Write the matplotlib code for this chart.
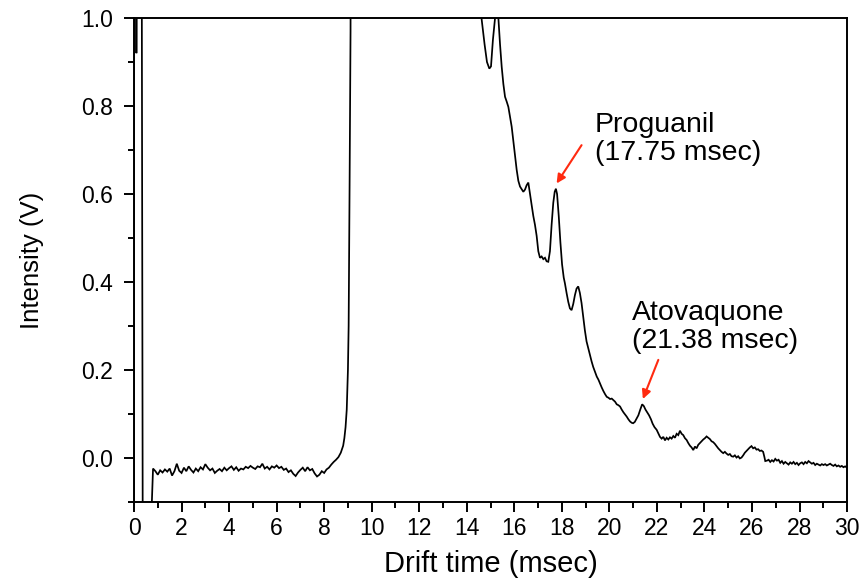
import matplotlib
matplotlib.use("Agg")
import matplotlib.pyplot as plt
from matplotlib.ticker import MultipleLocator, FormatStrFormatter

plt.rcParams["font.family"] = ["Liberation Sans", "DejaVu Sans"]

# Injection pulse and gating artefacts near t = 0 (off-scale values beyond the y-limits)
pulse_t = [0.00, 0.00, 0.09, 0.10, 0.13, 0.31, 0.37, 0.62, 0.80]
pulse_v = [-0.30, 1.60, 1.60, 0.92, 1.60, 1.60, -0.30, -0.30, -0.024]

# Baseline before the reactant ion peak
base_t = [0.9, 1.0, 1.1, 1.2, 1.3, 1.4, 1.5, 1.6, 1.7, 1.8, 1.9, 2.0, 2.1, 2.2, 2.3,
          2.4, 2.5, 2.6, 2.7, 2.8, 2.9, 3.0, 3.1, 3.2, 3.3, 3.4, 3.5, 3.6, 3.7, 3.8,
          3.9, 4.0, 4.1, 4.2, 4.3, 4.4, 4.5, 4.6, 4.7, 4.8, 4.9, 5.0, 5.1, 5.2, 5.3,
          5.4, 5.5, 5.6, 5.7, 5.8, 5.9, 6.0, 6.1, 6.2, 6.3, 6.4, 6.5, 6.6, 6.7, 6.8,
          6.9, 7.0, 7.1, 7.2, 7.3, 7.4, 7.5, 7.6, 7.7, 7.8, 7.9, 8.0, 8.1, 8.2, 8.3,
          8.4, 8.5]
base_v = [-0.030, -0.038, -0.028, -0.033, -0.026, -0.031, -0.024, -0.040, -0.030, -0.013,
          -0.029, -0.034, -0.022, -0.030, -0.019, -0.027, -0.033, -0.024, -0.030, -0.021,
          -0.026, -0.014, -0.022, -0.028, -0.024, -0.034, -0.029, -0.025, -0.030, -0.022,
          -0.028, -0.023, -0.019, -0.027, -0.021, -0.029, -0.024, -0.026, -0.020, -0.023,
          -0.018, -0.022, -0.025, -0.019, -0.021, -0.013, -0.024, -0.020, -0.026, -0.019,
          -0.022, -0.017, -0.023, -0.020, -0.027, -0.024, -0.032, -0.028, -0.036, -0.041,
          -0.033, -0.027, -0.022, -0.030, -0.021, -0.028, -0.025, -0.035, -0.042, -0.038,
          -0.030, -0.034, -0.026, -0.022, -0.015, -0.009, -0.004]

# Reactant ion peak (rising edge, then off-scale)
rip_t = [8.60, 8.70, 8.80, 8.85, 8.90, 8.95, 9.00, 9.03, 9.05, 9.07, 9.09, 9.11, 9.13,
         14.55]
rip_v = [0.002, 0.012, 0.028, 0.045, 0.070, 0.110, 0.200, 0.300, 0.450, 0.620, 0.800,
         0.970, 1.600, 1.300]

# Analyte region: tail of the reactant ion peak with proguanil and atovaquone
ana_t = [14.62, 14.75, 14.85, 14.95, 15.02, 15.10, 15.19, 15.25, 15.30, 15.33, 15.40,
         15.47, 15.54, 15.61, 15.68, 15.75, 15.82, 15.89, 15.96, 16.03, 16.10, 16.17,
         16.24, 16.31, 16.38, 16.45, 16.52, 16.59, 16.66, 16.73, 16.80, 16.87, 16.94,
         17.01, 17.08, 17.15, 17.22, 17.29, 17.36, 17.43, 17.50, 17.57, 17.64, 17.70,
         17.75, 17.80, 17.87, 17.94, 18.01, 18.08, 18.13, 18.20, 18.27, 18.34, 18.41,
         18.48, 18.55, 18.62, 18.69, 18.76, 18.83, 18.90, 18.97, 19.04, 19.11, 19.18,
         19.25, 19.32, 19.40, 19.47, 19.54, 19.60, 19.68, 19.75, 19.82, 19.89, 19.96,
         20.03, 20.10, 20.16, 20.24, 20.31, 20.38, 20.45, 20.52, 20.59, 20.66, 20.73,
         20.80, 20.87, 20.94, 21.00, 21.07, 21.15, 21.22, 21.30, 21.38, 21.45, 21.52,
         21.60, 21.67, 21.75, 21.82, 21.90, 21.99]
ana_v = [1.000, 0.940, 0.900, 0.885, 0.890, 0.950, 1.000, 1.300, 1.300, 1.000, 0.940,
         0.889, 0.850, 0.821, 0.810, 0.798, 0.775, 0.753, 0.720, 0.685, 0.655, 0.630,
         0.617, 0.611, 0.605, 0.610, 0.620, 0.626, 0.600, 0.575, 0.550, 0.530, 0.505,
         0.470, 0.455, 0.458, 0.452, 0.455, 0.447, 0.446, 0.470, 0.530, 0.580, 0.605,
         0.612, 0.600, 0.550, 0.490, 0.440, 0.410, 0.397, 0.375, 0.355, 0.340, 0.336,
         0.350, 0.370, 0.385, 0.390, 0.375, 0.352, 0.320, 0.290, 0.265, 0.250, 0.235,
         0.220, 0.207, 0.195, 0.185, 0.178, 0.170, 0.160, 0.152, 0.145, 0.139, 0.137,
         0.134, 0.135, 0.132, 0.128, 0.122, 0.120, 0.117, 0.110, 0.104, 0.099, 0.094,
         0.088, 0.083, 0.080, 0.079, 0.082, 0.090, 0.097, 0.110, 0.122, 0.118, 0.110,
         0.103, 0.097, 0.088, 0.078, 0.070, 0.064]

# Late-arriving ions and baseline recovery
tail_t = [22.06, 22.13, 22.20, 22.27, 22.34, 22.41, 22.48, 22.55, 22.62, 22.69, 22.76,
          22.83, 22.90, 22.97, 23.04, 23.11, 23.18, 23.25, 23.32, 23.39, 23.46, 23.53,
          23.60, 23.67, 23.74, 23.81, 23.88, 23.95, 24.02, 24.09, 24.16, 24.23, 24.30,
          24.37, 24.44, 24.51, 24.58, 24.65, 24.72, 24.79, 24.86, 24.93, 25.00, 25.07,
          25.14, 25.21, 25.28, 25.35, 25.42, 25.49, 25.56, 25.63, 25.70, 25.77, 25.84,
          25.91, 25.98, 26.05, 26.12, 26.19, 26.26, 26.33, 26.40, 26.47, 26.52, 26.56,
          26.63, 26.70, 26.77, 26.84, 26.91, 26.98, 27.05, 27.12, 27.19, 27.26, 27.33,
          27.40, 27.47, 27.54, 27.61, 27.68, 27.75, 27.82, 27.89, 27.96, 28.03, 28.10,
          28.17, 28.24, 28.31, 28.38, 28.45, 28.52, 28.59, 28.66, 28.73, 28.80, 28.87,
          28.94, 29.01, 29.08, 29.15, 29.22, 29.29, 29.36, 29.43, 29.50, 29.57, 29.64,
          29.71, 29.78, 29.85, 29.92, 30.00]
tail_v = [0.056, 0.048, 0.044, 0.048, 0.040, 0.046, 0.042, 0.047, 0.044, 0.050, 0.046,
          0.055, 0.052, 0.062, 0.055, 0.052, 0.045, 0.041, 0.034, 0.028, 0.024, 0.018,
          0.026, 0.022, 0.030, 0.034, 0.038, 0.042, 0.045, 0.049, 0.046, 0.043, 0.038,
          0.036, 0.032, 0.027, 0.022, 0.018, 0.014, 0.011, 0.014, 0.010, 0.007, 0.009,
          0.004, 0.003, 0.006, 0.001, 0.004, -0.001, 0.001, 0.006, 0.012, 0.016, 0.020,
          0.024, 0.027, 0.022, 0.024, 0.019, 0.020, 0.016, 0.017, 0.014, 0.003, -0.007,
          -0.006, -0.004, -0.009, -0.005, -0.008, -0.002, -0.006, -0.004, -0.011, -0.007,
          -0.013, -0.009, -0.012, -0.015, -0.010, -0.013, -0.009, -0.014, -0.011, -0.016,
          -0.012, -0.010, -0.014, -0.009, -0.012, -0.007, -0.010, -0.013, -0.011, -0.016,
          -0.013, -0.015, -0.017, -0.014, -0.016, -0.014, -0.017, -0.015, -0.013, -0.016,
          -0.018, -0.015, -0.019, -0.017, -0.020, -0.018, -0.021, -0.019, -0.022]

drift_ms = pulse_t + base_t + rip_t + ana_t + tail_t
intensity_v = pulse_v + base_v + rip_v + ana_v + tail_v

# Peak annotations: label, peak position, peak height
peak_names = ["Proguanil", "Atovaquone"]
peak_times = [17.75, 21.38]
peak_heights = [0.612, 0.122]

fig = plt.figure(figsize=(8.63, 5.79), dpi=100)
ax = fig.add_axes([0.1553, 0.133, 0.8262, 0.8359])

ax.plot(drift_ms, intensity_v, color="black", lw=1.25, solid_joinstyle="miter")

ax.set_xlim(0, 30)
ax.set_ylim(-0.1, 1.0)
ax.xaxis.set_major_locator(MultipleLocator(2))
ax.xaxis.set_minor_locator(MultipleLocator(1))
ax.yaxis.set_major_locator(MultipleLocator(0.2))
ax.yaxis.set_minor_locator(MultipleLocator(0.1))
ax.yaxis.set_major_formatter(FormatStrFormatter("%.1f"))

ax.tick_params(which="both", direction="out", width=1.4, top=False, right=False,
               labelsize=16.5, colors="black")
ax.tick_params(which="major", length=7)
ax.tick_params(which="minor", length=4)
ax.tick_params(axis="y", which="major", pad=8)
ax.tick_params(axis="x", which="major", pad=4)
for sp in ax.spines.values():
    sp.set_linewidth(1.4)

ax.set_xlabel("Drift time (msec)", fontsize=21, labelpad=7)
ax.set_ylabel("Intensity (V)", fontsize=18.5, labelpad=27)

# Text block and arrow tail offsets for each peak
label_pos = [(19.39, 0.786), (20.94, 0.358)]
arrow_tail = [(18.83, 0.711), (22.06, 0.223)]
for name, t, h, lp, tail in zip(peak_names, peak_times, peak_heights, label_pos, arrow_tail):
    ax.annotate("", xy=(t + 0.03, h + 0.012), xytext=tail,
                arrowprops=dict(arrowstyle="-|>", color="#ff2a10", lw=1.5,
                                mutation_scale=13, shrinkA=0, shrinkB=0))
    ax.text(lp[0], lp[1], f"{name}\n({t:.2f} msec)", fontsize=20.5, ha="left", va="top",
            linespacing=1.1, color="black")

fig.savefig("out.png", dpi=100)
